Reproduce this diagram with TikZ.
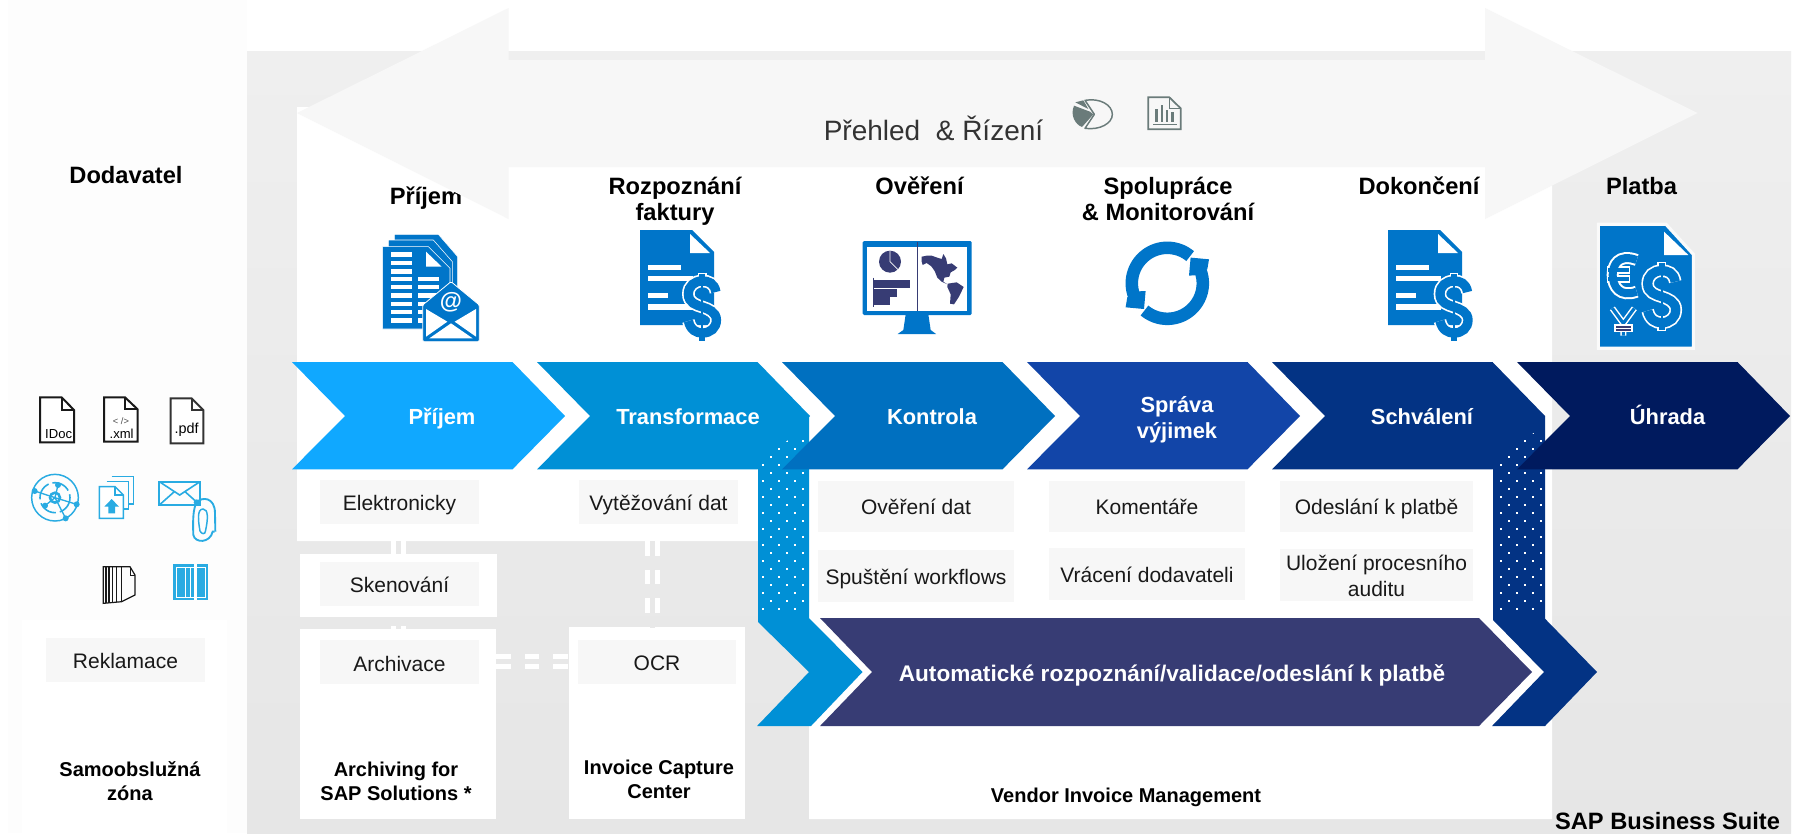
\documentclass[tikz,border=0pt]{standalone}
\usepackage{fontspec}
\setmainfont{Liberation Sans}
\usetikzlibrary{calc}
\definecolor{iblue}{HTML}{0075C9}
\definecolor{lblue}{HTML}{29ABE2}
\definecolor{navyi}{HTML}{373C74}
\definecolor{cellg}{HTML}{F7F7F7}
\definecolor{greyicon}{HTML}{6A7B7A}
\definecolor{gapg}{HTML}{E8E8E8}
\definecolor{leftg}{HTML}{FDFDFD}
\definecolor{bgtop}{HTML}{EFEFEF}
\definecolor{bgbot}{HTML}{E6E6E6}
\definecolor{chA}{HTML}{10A8FF}
\definecolor{chB}{HTML}{0090D6}
\definecolor{chC}{HTML}{0070C0}
\definecolor{chD}{HTML}{1245A8}
\definecolor{chE}{HTML}{033384}
\definecolor{chF}{HTML}{001A5E}
\def\px{0.75pt}
\tikzset{
  cellbase/.style={fill=cellg,inner sep=0pt,align=center,text=black!90,font=\fontsize{15.75pt}{19.5pt}\selectfont},
  cell/.style={cellbase,text height=15.3pt,text depth=3.3pt},
  panel/.style={fill=white,inner sep=0pt},
  hdr/.style={inner sep=0pt,align=center,text=black,font=\bfseries\fontsize{17.75pt}{19.5pt}\selectfont},
  sub/.style={inner sep=0pt,align=center,text=black,font=\bfseries\fontsize{15pt}{18pt}\selectfont},
  chevbase/.style={inner sep=0pt,align=center,text=white,font=\bfseries\fontsize{16.4pt}{19.5pt}\selectfont},
  chevtext/.style={chevbase,text height=15.5pt,text depth=3.5pt},
  link/.style={draw=white,line width=3.75pt,double=gapg,double distance=3.75pt,dash pattern=on 10.9pt off 10.5pt},
  filetext/.style={inner sep=0pt,text=black},
  fileicon/.style={draw=black!90,line width=1.5pt,line join=miter,fill=white},
  lineicon/.style={draw=lblue,line width=1.1pt,fill=none},
}
% chevron: left corner x, colour
\newcommand\chevshape[2]{\fill[#2] (#1,362)--({#1+220.5},362)--({#1+273},416)--({#1+220.5},469.3)--(#1,469.3)--({#1+53},416)--cycle;}
% dollar sign centred at origin of a scope
\newcommand\dollarsign[2]{%
 \def\spath{(13.5,-15) .. controls (12,-24) and (6,-26) .. (0,-26) .. controls (-8,-26) and (-14,-21) .. (-14,-13) .. controls (-14,-4) and (-6,-2) .. (0,0) .. controls (6,2) and (14,5) .. (14,13) .. controls (14,21) and (8,26) .. (0,26) .. controls (-6,26) and (-12,23) .. (-14,14)}%
 \draw[#1,line width=9.5pt] \spath;
 \draw[#1,line width=6.5pt] (0,-34.5)--(0,-26) (0,26)--(0,34.5);
 \draw[#2,line width=7pt] \spath;
 \draw[#2,line width=4.6pt] (0,-33.5)--(0,-24) (0,24)--(0,33.5);
 \draw[#2,line width=1.6pt] (0,-26)--(0,26);
}
\newcommand\docdollar[2]{%
\begin{scope}[shift={(#1,#2)}]
 \fill[iblue] (0,0)--(52,0)--(74,22)--(74,95)--(0,95)--cycle;
 \fill[white] (50,4)--(70,23)--(50,23)--cycle;
 \fill[white] (8,35) rectangle (41,40);
 \fill[white] (8,46) rectangle (53,51);
 \fill[white] (8,63) rectangle (28,68);
 \fill[white] (8,74) rectangle (53,80);
\end{scope}}
\begin{document}
\begin{tikzpicture}[x=0.75pt,y=-0.75pt]
\useasboundingbox (0,0) rectangle (1801,833);
% ---------- backgrounds
\fill[white] (0,0) rectangle (1801,833);
\fill[leftg] (8,0) rectangle (247,833);
\fill[white] (22,620) rectangle (227,833);
\shade[top color=bgtop,bottom color=bgbot] (247,51) rectangle (1791,833);
\fill[white] (297,107)--(1552,107)--(1552,819)--(809,819)--(809,541)--(297,541)--cycle;
% ---------- lower panels
\node[panel,minimum width=197*\px,minimum height=63*\px] (skenpanel) at (398.5,585.5) {};
\node[panel,minimum width=196*\px,minimum height=190*\px] (archpanel) at (398,724) {};
\node[panel,minimum width=176*\px,minimum height=192*\px] (iccpanel) at (657,723) {};
% ---------- connectors
\coordinate (fromelek) at (398,541);
\coordinate (fromvyt) at (652.5,541);
\coordinate (archright) at (496,661);
\coordinate (iccleft) at (569,661);
\coordinate (sken top) at (398,554);
\coordinate (arch top) at (398,629);
\coordinate (sken bottom) at (398,617);
\coordinate (icc top) at (652.5,627);
\draw[link] (fromelek)--(sken top);
\draw[link,dash phase=14.6pt] (sken bottom)--(arch top);
\draw[link] (fromvyt)--(icc top);
\draw[link] (archright)--(iccleft);
% ---------- cells
\node[cell,text height=16.3pt,minimum width=159*\px,minimum height=44*\px] (elek) at (399.5,502) {Elektronicky};
\node[cell,text height=16.3pt,minimum width=159*\px,minimum height=44*\px] (vyt) at (658.5,502) {Vytěžování dat};
\node[cell,minimum width=159*\px,minimum height=44*\px] (sken) at (399.5,584) {Skenování};
\node[cell,text height=17.9pt,minimum width=159*\px,minimum height=44*\px] (arch) at (399.5,662) {Archivace};
\node[cell,minimum width=158.5*\px,minimum height=44*\px] (ocr) at (657,662) {OCR};
\node[cell,minimum width=159*\px,minimum height=44*\px] (rekl) at (125.5,660) {Reklamace};
\node[cell,minimum width=196*\px,minimum height=51*\px] (over) at (916,506.5) {Ověření dat};
\node[cell,minimum width=196*\px,minimum height=52*\px] (spust) at (916,576) {Spuštění workflows};
\node[cell,minimum width=196*\px,minimum height=51*\px] (koment) at (1147,506.5) {Komentáře};
\node[cell,minimum width=196*\px,minimum height=52*\px] (vrac) at (1147,574) {Vrácení dodavateli};
\node[cell,minimum width=193*\px,minimum height=51*\px] (odesl) at (1376.5,506.5) {Odeslání k platbě};
\fill[cellg] (1280,549) rectangle (1473,601);
\node[inner sep=0pt,align=center,text=black!90,font=\fontsize{15.75pt}{19.5pt}\selectfont] (uloz) at (1376.5,576) {Uložení procesního\\auditu};
% ---------- headers (under the big arrow)
\node[hdr] (h0) at (126,175) {Dodavatel};
\node[hdr] (h1) at (426,198) {Příjem};
\node[hdr] (h2) at (675,201.5) {Rozpoznání\\faktury};
\node[hdr] (h3) at (919.5,186) {Ověření};
\node[hdr] (h4) at (1168,199) {Spolupráce\\\& Monitorování};
\node[hdr] (h5) at (1419,186) {Dokončení};
\node[hdr] (h6) at (1641.5,186) {Platba};
% ---------- big double arrow
\fill[cellg] (297,113)--(508.5,8)--(508.5,60)--(1485,60)--(1485,8)--(1697.5,113)--(1485,219)--(1485,167)--(508.5,167)--(508.5,219)--cycle;
\node[inner sep=0pt,text=black!80,font=\fontsize{21pt}{24pt}\selectfont] (prehled) at (933.5,128) {Přehled\ \ \& Řízení};
% grey pie
\begin{scope}[shift={(1060,85)},x=.25pt,y=-.25pt]
 \draw[greyicon,line width=1.1pt,line join=round] (75,46) .. controls (120,38) and (157,60) .. (157,88) .. controls (157,115) and (120,136) .. (75,130) -- (103,88) -- cycle;
 \fill[greyicon] (46,52)--(70,46)--(85,72)--cycle;
 \fill[greyicon] (42,62)--(90,80)--(100,88)--(66,126) .. controls (45,118) and (30,90) .. (42,62) -- cycle;
\end{scope}
% grey report
\begin{scope}[shift={(1060,85)},x=.25pt,y=-.25pt]
 \draw[greyicon,line width=1.3pt] (265,37)--(328,37)--(362,70)--(362,133)--(265,133)--cycle;
 \draw[greyicon,line width=1pt] (328,37)--(328,70)--(362,70);
 \fill[greyicon] (286,72) rectangle (294,112);
 \fill[greyicon] (302,60) rectangle (310,112);
 \fill[greyicon] (318,74) rectangle (325,112);
 \fill[greyicon] (333,82) rectangle (341,112);
 \fill[greyicon] (280,116) rectangle (350,120);
\end{scope}
% ---------- chevrons and dotted bars
\chevshape{292}{chA}
\chevshape{537}{chB}
\fill[chB] (758,416)--(809,416)--(809,618)--(862.5,672)--(811,726)--(757,726)--(809,672)--(758,622)--cycle;
\begin{scope}
 \clip (758,462)--(809,425)--(809,617)--(758,617)--cycle;
 \foreach \i in {0,2,4} \foreach \k in {0,...,11} {
   \fill[white] ({763+8*\i-1},{433+16*\k-1}) rectangle +(2,2);
   \fill[white] ({771+8*\i-1},{425+16*\k-1}) rectangle +(2,2);
 }
\end{scope}
\chevshape{782}{chC}
\chevshape{1027}{chD}
\chevshape{1272}{chE}
\fill[chE] (1493,416)--(1545,416)--(1545,618.7)--(1597,672)--(1545,726)--(1492,726)--(1544,672)--(1493,620)--cycle;
\begin{scope}
 \clip (1493,462)--(1545,425)--(1545,617)--(1493,617)--cycle;
 \foreach \i in {0,2,4} \foreach \k in {0,...,11} {
   \fill[white] ({1501+8*\i-1},{433+16*\k-1}) rectangle +(2,2);
   \fill[white] ({1509+8*\i-1},{425+16*\k-1}) rectangle +(2,2);
 }
\end{scope}
\chevshape{1517}{chF}
\node[chevtext] (c1) at (442,416) {Příjem};
\node[chevtext] (c2) at (688,416) {Transformace};
\node[chevtext] (c3) at (932,416) {Kontrola};
\node[chevbase] (c4) at (1177,419.5) {Správa\\výjimek};
\node[chevtext] (c5) at (1422,416) {Schválení};
\node[chevtext] (c6) at (1667.5,416) {Úhrada};
% purple arrow
\fill[navyi] (820,618)--(1479,618)--(1532,672)--(1479,726)--(820,726)--(872,672)--cycle;
\node[inner sep=0pt,text=white,font=\bfseries\fontsize{16.95pt}{20pt}\selectfont] (auto) at (1172,675.5) {Automatické rozpoznání/validace/odeslání k platbě};
% ---------- footer labels
\node[sub] (s0) at (130,781.5) {Samoobslužná\\zóna};
\node[sub] (s1) at (396,781.5) {Archiving for\\SAP Solutions *};
\node[sub] (s2) at (659,779) {Invoice Capture\\Center};
\node[sub] (s3) at (1126,797) {Vendor Invoice Management};
\node[hdr] (s4) at (1667.5,821.5) {SAP Business Suite};
% ---------- icon: documents and mail
\begin{scope}[shift={(375,225)},x=.25pt,y=-.25pt]
 \filldraw[fill=iblue,draw=white,line width=.4pt] (58,28)--(190,28)--(248,95)--(248,200)--(58,200)--cycle;
 \filldraw[fill=iblue,draw=white,line width=.4pt] (40,45)--(175,45)--(232,110)--(232,250)--(40,250)--cycle;
 \filldraw[fill=iblue,draw=white,line width=.4pt] (23,65)--(160,65)--(225,130)--(225,312)--(23,312)--cycle;
 \fill[white] (153,80)--(200,125)--(153,125)--cycle;
 \foreach \yy in {82,107,133,155,180,205,230,255,280} \fill[white] (47,\yy) rectangle (110,\yy+13);
 \foreach \yy in {155,180,205,230,255,280} \fill[white] (130,\yy) rectangle (192,\yy+13);
 \filldraw[fill=iblue,draw=white,line width=.6pt,rounded corners=1pt] (228,170)--(313,240)--(313,350)--(143,350)--(143,240)--cycle;
 \fill[white] (153,252)--(217,290)--(153,335)--cycle;
 \fill[white] (303,252)--(239,290)--(303,335)--cycle;
 \fill[white] (163,340)--(228,295)--(293,340)--cycle;
 \node[inner sep=0pt,text=white,font=\bfseries\fontsize{17pt}{17pt}\selectfont] (at) at (228,233) {@};
\end{scope}
% ---------- document icons with dollar
\docdollar{640}{230}
\begin{scope}[shift={(702.4,307)}]\dollarsign{white}{iblue}\end{scope}
\docdollar{1388}{230}
\begin{scope}[shift={(1454,307)}]\dollarsign{white}{iblue}\end{scope}
% ---------- monitor
\begin{scope}[shift={(860,235)},x=.25pt,y=-.25pt]
 \fill[iblue] (137,238)--(205,238)--(212,285)--(228,297)--(113,297)--(130,285)--cycle;
 \fill[iblue,rounded corners=1pt] (8,18) rectangle (335,240);
 \fill[white] (20,35) rectangle (322,228);
 \draw[navyi,line width=.6pt] (172,22)--(172,228);
 \fill[navyi] (90,80) circle (33);
 \draw[white,line width=.6pt] (90,47)--(90,80)--(115,105);
 \draw[navyi,line width=.5pt] (40,128)--(40,215);
 \fill[navyi] (40,135) rectangle (150,158);
 \fill[navyi] (40,162) rectangle (110,185);
 \fill[navyi] (40,187) rectangle (90,210);
 \fill[navyi] (185,65)--(200,62)--(215,62)--(232,68)--(245,72)--(250,57)--(258,70)--(262,88)--(275,85)--(292,98)--(283,106)--(272,112)--(268,125)--(253,128)--(250,140)--(262,148)--(245,140)--(232,128)--(224,108)--(214,94)--(200,84)--(188,90)--(185,80)--cycle;
 \fill[navyi] (263,146)--(290,142)--(311,156)--(297,185)--(282,208)--(270,206)--(272,178)--(262,156)--cycle;
\end{scope}
% ---------- refresh
\begin{scope}[shift={(1167.3,283.3)}]
 \foreach \rr in {0,180} {
 \begin{scope}[rotate=\rr]
  \draw[iblue,line width=9.4pt] plot[domain=-50:-200,samples=40] (\x:35.5);
  \fill[iblue] (-41.7,24)--(-23.3,25.7)--(-21.7,7.7)--(-28,8)--(-40,14)--cycle;
 \end{scope}}
\end{scope}
% ---------- payment
\begin{scope}[shift={(1590,215)},x=.25pt,y=-.25pt]
 \filldraw[fill=iblue,draw=black!2,line width=2.4pt] (25,28)--(228,28)--(310,118)--(310,400)--(25,400)--cycle;
 \fill[white] (222,50)--(295,120)--(222,120)--cycle;
 % euro
 \draw[white,line width=9pt] (140,135) .. controls (85,115) and (68,150) .. (68,180) .. controls (68,215) and (90,248) .. (140,230);
 \draw[white,line width=5.6pt] (52,165)--(120,165) (52,192)--(120,192);
 \draw[iblue,line width=6pt] (140,135) .. controls (85,115) and (68,150) .. (68,180) .. controls (68,215) and (90,248) .. (140,230);
 \draw[iblue,line width=2.8pt] (54,165)--(118,165) (54,192)--(118,192);
 % yen
 \draw[white,line width=4.6pt] (67,280)--(100,325)--(133,280) (100,325)--(100,362);
 \draw[iblue,line width=2.4pt] (67,280)--(100,325)--(133,280) (100,325)--(100,362);
 \fill[white] (72,328) rectangle (128,352);
 \fill[navyi] (77,332) rectangle (123,339);
 \fill[navyi] (77,342) rectangle (123,349);
\end{scope}
\begin{scope}[shift={(1661.7,296.7)}]\dollarsign{white}{iblue}\end{scope}
% ---------- supplier file icons
\begin{scope}[shift={(20,385)},x=.25pt,y=-.25pt]
 \filldraw[fileicon] (60,37)--(125,37)--(162,75)--(162,172)--(60,172)--cycle;
 \draw[black!90,line width=1.3pt] (125,37)--(125,75)--(162,75);
 \filldraw[fileicon] (252,37)--(315,37)--(353,73)--(353,170)--(252,170)--cycle;
 \draw[black!90,line width=1.3pt] (315,37)--(315,73)--(353,73);
 \filldraw[fileicon,draw=black!80] (452,40)--(515,40)--(550,75)--(550,175)--(452,175)--cycle;
 \draw[black!80,line width=1.3pt] (515,40)--(515,75)--(550,75);
 \node[filetext,font=\fontsize{9.8pt}{10pt}\selectfont] (idoc) at (116,147) {IDoc};
 \node[filetext,text=black!70,font=\fontsize{7pt}{8pt}\selectfont] (tagx) at (303,107) {< />};
 \node[filetext,font=\fontsize{9.8pt}{10pt}\selectfont] (xml) at (305,145) {.xml};
 \node[filetext,font=\fontsize{10.8pt}{11pt}\selectfont] (pdf) at (500,135) {.pdf};
 % hub
 \draw[lineicon] (105,338) circle (70);
 \draw[lineicon,line width=1.2pt,dash pattern=on 14pt off 3pt] (105,338) circle (45);
 \draw[lblue,line width=1.9pt] (105,338) circle (15);
 \draw[lblue,line width=1pt] (44,318)--(105,338)--(114,300) (75,362)--(105,338)--(170,358) (105,338)--(137,400);
 \foreach \hx/\hy in {44/318,114/300,75/362,170/358,137/400} \fill[lblue] (\hx,\hy) circle (9);
 % stacked upload
 \draw[lineicon] (275,275)--(340,275)--(340,357)--(325,357);
 \draw[lineicon] (260,290)--(325,290)--(325,372)--(310,372);
 \filldraw[lineicon,fill=white] (238,305)--(285,305)--(310,330)--(310,400)--(238,400)--cycle;
 \draw[lineicon,line width=.8pt] (285,305)--(285,330)--(310,330);
 \fill[lblue] (253,365)--(275,342)--(297,365)--(285,365)--(285,385)--(265,385)--(265,365)--cycle;
 % mail and clip
 \draw[lblue,line width=1.6pt] (418,290) rectangle (540,360);
 \draw[lblue,line width=1.2pt] (418,290)--(479,330)--(540,290) (418,360)--(463,320) (540,360)--(495,320);
 \fill[lblue] (530,352) circle (9);
 \draw[lblue,line width=1.4pt,line join=round] (530,352) .. controls (545,335) and (585,335) .. (585,385) -- (586,440);
 \draw[lblue,line width=1.4pt] (530,352) .. controls (520,370) and (518,400) .. (520,450) .. controls (525,475) and (570,475) .. (578,440) -- (584,440);
 \draw[lblue,line width=1.1pt] (556,440) .. controls (565,400) and (565,372) .. (549,372) .. controls (530,372) and (535,410) .. (540,438) .. controls (545,448) and (555,448) .. (556,440);
 % page stack
 \draw[black!90,line width=.9pt] (250,545)--(330,545)--(345,570)--(345,630)--(305,650)--(250,655)--cycle;
 \draw[black!90,line width=.9pt] (258,545)--(258,655) (267,545)--(267,654) (277,545)--(277,653) (290,545)--(290,652) (305,545)--(305,650);
 \draw[black!90,line width=.5pt] (330,545)--(330,570)--(345,570);
 % barcode
 \fill[lblue] (460,538) rectangle (565,645);
 \draw[white,line width=.6pt] (468,546) rectangle (557,637);
 \fill[white] (495,547) rectangle (499,636);
 \fill[white] (509,547) rectangle (513,636);
 \fill[white] (523,538) rectangle (531,645);
\end{scope}
\end{tikzpicture}
\end{document}
